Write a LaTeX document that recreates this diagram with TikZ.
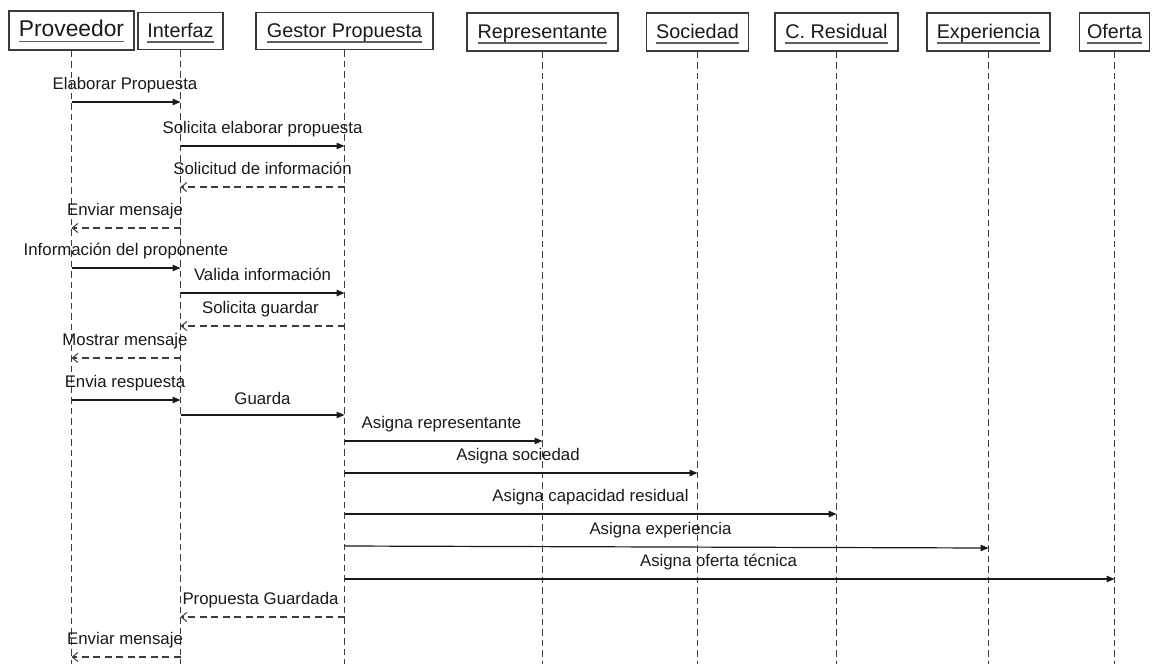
\documentclass[tikz,border=0pt]{standalone}
\usepackage{fontspec}
\setmainfont{Liberation Sans}
\usetikzlibrary{arrows.meta}
\definecolor{frame}{HTML}{3A3A3A}
\definecolor{life}{HTML}{3C3C3C}
\definecolor{ink}{HTML}{1A1A1A}
\definecolor{uline}{HTML}{606060}
% underlined header text
\newcommand\hdr[1]{\setbox0\hbox{#1}\rlap{\color{uline}\rule[-5.5pt]{\wd0}{1.4pt}}\box0}
\begin{document}
\begin{tikzpicture}[x=1pt,y=-1pt,
  objbox/.style={draw=frame, line width=1.4pt, fill=white, inner sep=0pt,
    text=ink, text height=14pt, text depth=2pt, font=\fontsize{19.8}{22}\selectfont},
  lifeline/.style={draw=life, line width=1.1pt, dash pattern=on 6.5pt off 4pt},
  call/.style={draw=ink, line width=1.2pt, -{Triangle[length=8pt,width=6.5pt]}},
  reply/.style={draw=life, line width=1.2pt, dash pattern=on 7pt off 4.5pt,
    -{Straight Barb[length=5.5pt,width=9pt,line width=1pt]}},
  lbl/.style={midway, anchor=base, yshift=12.5pt, inner sep=0pt, text=ink,
    font=\fontsize{16.8}{19}\selectfont}]
\fill[white] (0,0) rectangle (1156,664);

% participants
\node[objbox, line width=1.9pt, minimum width=125pt, minimum height=39pt,
  font=\fontsize{22.8}{25}\selectfont, text height=15pt, text depth=2.5pt] (prov) at (71.5,30.5) {\hdr{Proveedor}};
\node[objbox, minimum width=85pt, minimum height=37pt] (intf) at (180.5,31) {\hdr{Interfaz}};
\node[objbox, minimum width=177pt, minimum height=37pt] (gest) at (344.5,31) {\hdr{Gestor Propuesta}};
\node[objbox, minimum width=151pt, minimum height=38pt] (repr) at (542.5,32) {\hdr{Representante}};
\node[objbox, minimum width=102pt, minimum height=38pt] (soc) at (697.5,32) {\hdr{Sociedad}};
\node[objbox, minimum width=123pt, minimum height=38pt] (cres) at (836.5,32) {\hdr{C. Residual}};
\node[objbox, minimum width=123pt, minimum height=38pt] (expe) at (988.5,32) {\hdr{Experiencia}};
\node[objbox, minimum width=70pt, minimum height=38pt] (ofer) at (1114.5,32) {\hdr{Oferta}};

% lifelines
\foreach \p in {prov,intf,gest,repr,soc,cres,expe,ofer}
  \draw[lifeline] (\p.south) -- (\p |- 0,664);

% messages
\draw[call] (prov |- 0,102) -- node[lbl, xshift=-1pt]{Elaborar Propuesta} (intf |- 0,102);
\draw[call] (intf |- 0,146) -- node[lbl]{Solicita elaborar propuesta} (gest |- 0,146);
\draw[reply] (gest |- 0,187) -- node[lbl]{Solicitud de información} (intf |- 0,187);
\draw[reply] (intf |- 0,228) -- node[lbl, xshift=-1pt]{Enviar mensaje} (prov |- 0,228);
\draw[call] (prov |- 0,268) -- node[lbl]{Información del proponente} (intf |- 0,268);
\draw[call] (intf |- 0,293) -- node[lbl]{Valida información} (gest |- 0,293);
\draw[reply] (gest |- 0,326) -- node[lbl, xshift=-2pt]{Solicita guardar} (intf |- 0,326);
\draw[reply] (intf |- 0,358) -- node[lbl, xshift=-1pt]{Mostrar mensaje} (prov |- 0,358);
\draw[call] (prov |- 0,400) -- node[lbl, xshift=-1pt]{Envia respuesta} (intf |- 0,400);
\draw[call] (intf |- 0,415) -- node[lbl, yshift=-1.5pt]{Guarda} (gest |- 0,415);
\draw[call] (gest |- 0,441) -- node[lbl, xshift=-2pt]{Asigna representante} (repr |- 0,441);
\draw[call] (gest |- 0,473) -- node[lbl, xshift=-3pt]{Asigna sociedad} (soc |- 0,473);
\draw[call] (gest |- 0,514) -- node[lbl]{Asigna capacidad residual} (cres |- 0,514);
\draw[call] (gest |- 0,546) -- node[lbl, xshift=-6pt]{Asigna experiencia} (expe |- 0,548);
\draw[call] (gest |- 0,579) -- node[lbl, xshift=-11pt]{Asigna oferta técnica} (ofer |- 0,579);
\draw[reply] (gest |- 0,617) -- node[lbl, xshift=-2pt]{Propuesta Guardada} (intf |- 0,617);
\draw[reply] (intf |- 0,657) -- node[lbl, xshift=-1pt]{Enviar mensaje} (prov |- 0,657);
\end{tikzpicture}
\end{document}
